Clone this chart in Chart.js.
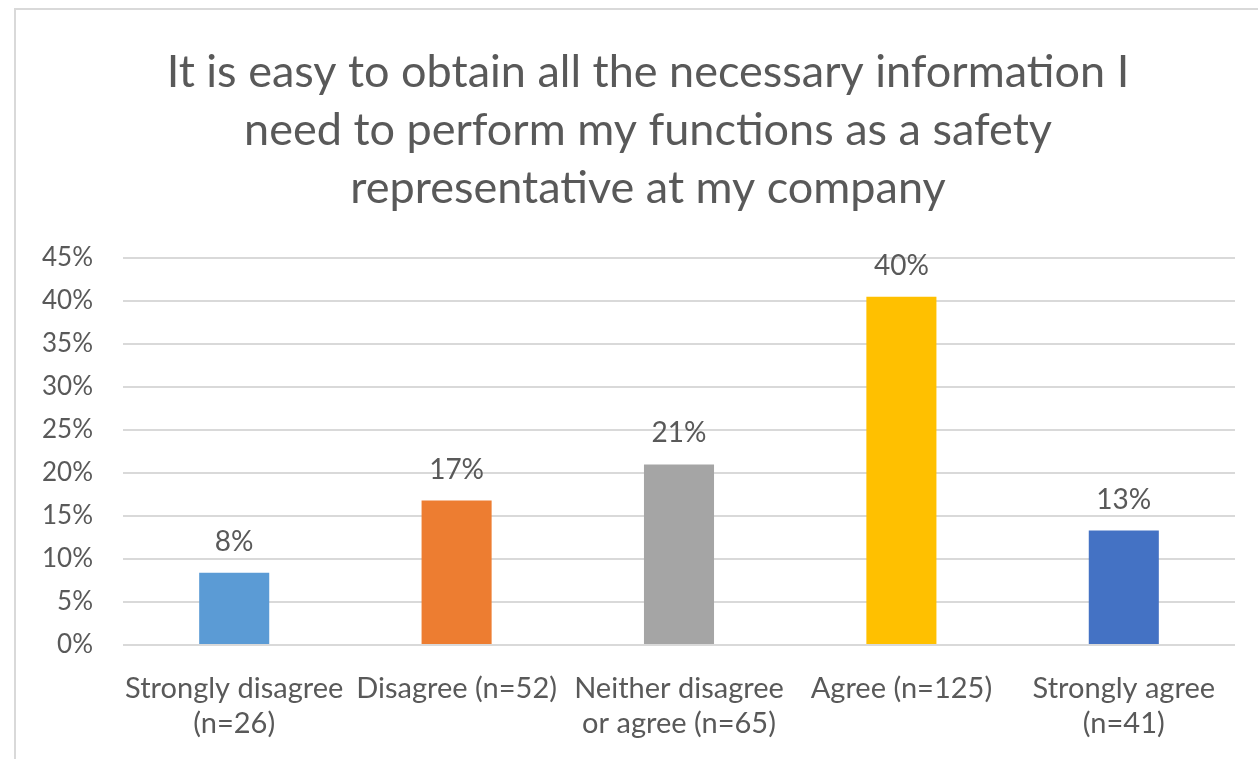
<!DOCTYPE html>
<html>
<head>
<meta charset="utf-8">
<script src="https://cdn.jsdelivr.net/npm/chart.js@4"></script>
<style>
    html, body { margin: 0; padding: 0; background: #fff; }
    #frame { position: absolute; left: 14px; top: 8px; width: 1260px; height: 760px; border-left: 2px solid #d9d9d9; border-top: 2px solid #d9d9d9; }
    #wrap { position: absolute; left: 0; top: 0; width: 1258px; height: 759px; }
</style>
</head>
<body>
<div id="frame"></div>
<div id="wrap"><canvas id="chart"></canvas></div>
<script>
// Data
const titleLines = ['It is easy to obtain all the necessary information I', 'need to perform my functions as a safety', 'representative at my company'];
const categories = [
    ['Strongly disagree', '(n=26)'],
    'Disagree (n=52)',
    ['Neither disagree', 'or agree (n=65)'],
    'Agree (n=125)',
    ['Strongly agree', '(n=41)']
];
const shares = [8.4, 16.8, 21.0, 40.5, 13.3];   // percent of respondents
const shareLabels = ['8%', '17%', '21%', '40%', '13%'];
const barColors = ['#5B9BD5', '#ED7D31', '#A5A5A5', '#FFC000', '#4472C4'];
const yTicks = [0, 5, 10, 15, 20, 25, 30, 35, 40, 45];

const FONT = 'Lato';
const TEXT = '#595959';

// title is centred on the original (wider) chart frame, not on the canvas
const chartTitle = {
    id: 'chartTitle',
    afterDraw(chart) {
        const ctx = chart.ctx;
        ctx.save();
        ctx.font = `45px ${FONT}`;
        ctx.fillStyle = TEXT;
        ctx.textAlign = 'center';
        ctx.textBaseline = 'middle';
        titleLines.forEach((line, i) => ctx.fillText(line, 648, 72 + i * 58));
        ctx.restore();
    }
};

// value labels above each bar
const barLabels = {
    id: 'barLabels',
    afterDatasetsDraw(chart) {
        const ctx = chart.ctx;
        const meta = chart.getDatasetMeta(0);
        ctx.save();
        ctx.font = `28px ${FONT}`;
        ctx.fillStyle = TEXT;
        ctx.textAlign = 'center';
        ctx.textBaseline = 'middle';
        meta.data.forEach((bar, i) => {
            ctx.fillText(shareLabels[i], bar.x, bar.y - 31);
        });
        ctx.restore();
    }
};

new Chart(document.getElementById('chart'), {
    type: 'bar',
    data: {
        labels: categories,
        datasets: [{
            data: shares,
            backgroundColor: barColors,
            borderWidth: 0,
            categoryPercentage: 1,
            barPercentage: 0.315
        }]
    },
    plugins: [chartTitle, barLabels],
    options: {
        responsive: true,
        maintainAspectRatio: false,
        animation: false,
        layout: { autoPadding: false, padding: { left: 0, right: 23, top: 258, bottom: 0 } },
        plugins: {
            legend: { display: false },
            tooltip: { enabled: false },
            title: { display: false }
        },
        scales: {
            y: {
                min: 0,
                max: 45,
                afterFit(scale) { scale.width = 123; },
                afterBuildTicks(scale) { scale.ticks = yTicks.map(v => ({ value: v })); },
                border: { display: false },
                grid: { color: '#d9d9d9', lineWidth: 2, drawTicks: false },
                ticks: {
                    padding: 30,
                    color: TEXT,
                    font: { family: FONT, size: 26 },
                    callback: v => v + '%'
                }
            },
            x: {
                afterFit(scale) { scale.height = 114; },
                border: { display: false },
                grid: { display: false, drawTicks: false },
                ticks: {
                    padding: 26,
                    maxRotation: 0,
                    autoSkip: false,
                    color: TEXT,
                    font: { family: FONT, size: 29, lineHeight: '35px' }
                }
            }
        }
    }
});
</script>
</body>
</html>
